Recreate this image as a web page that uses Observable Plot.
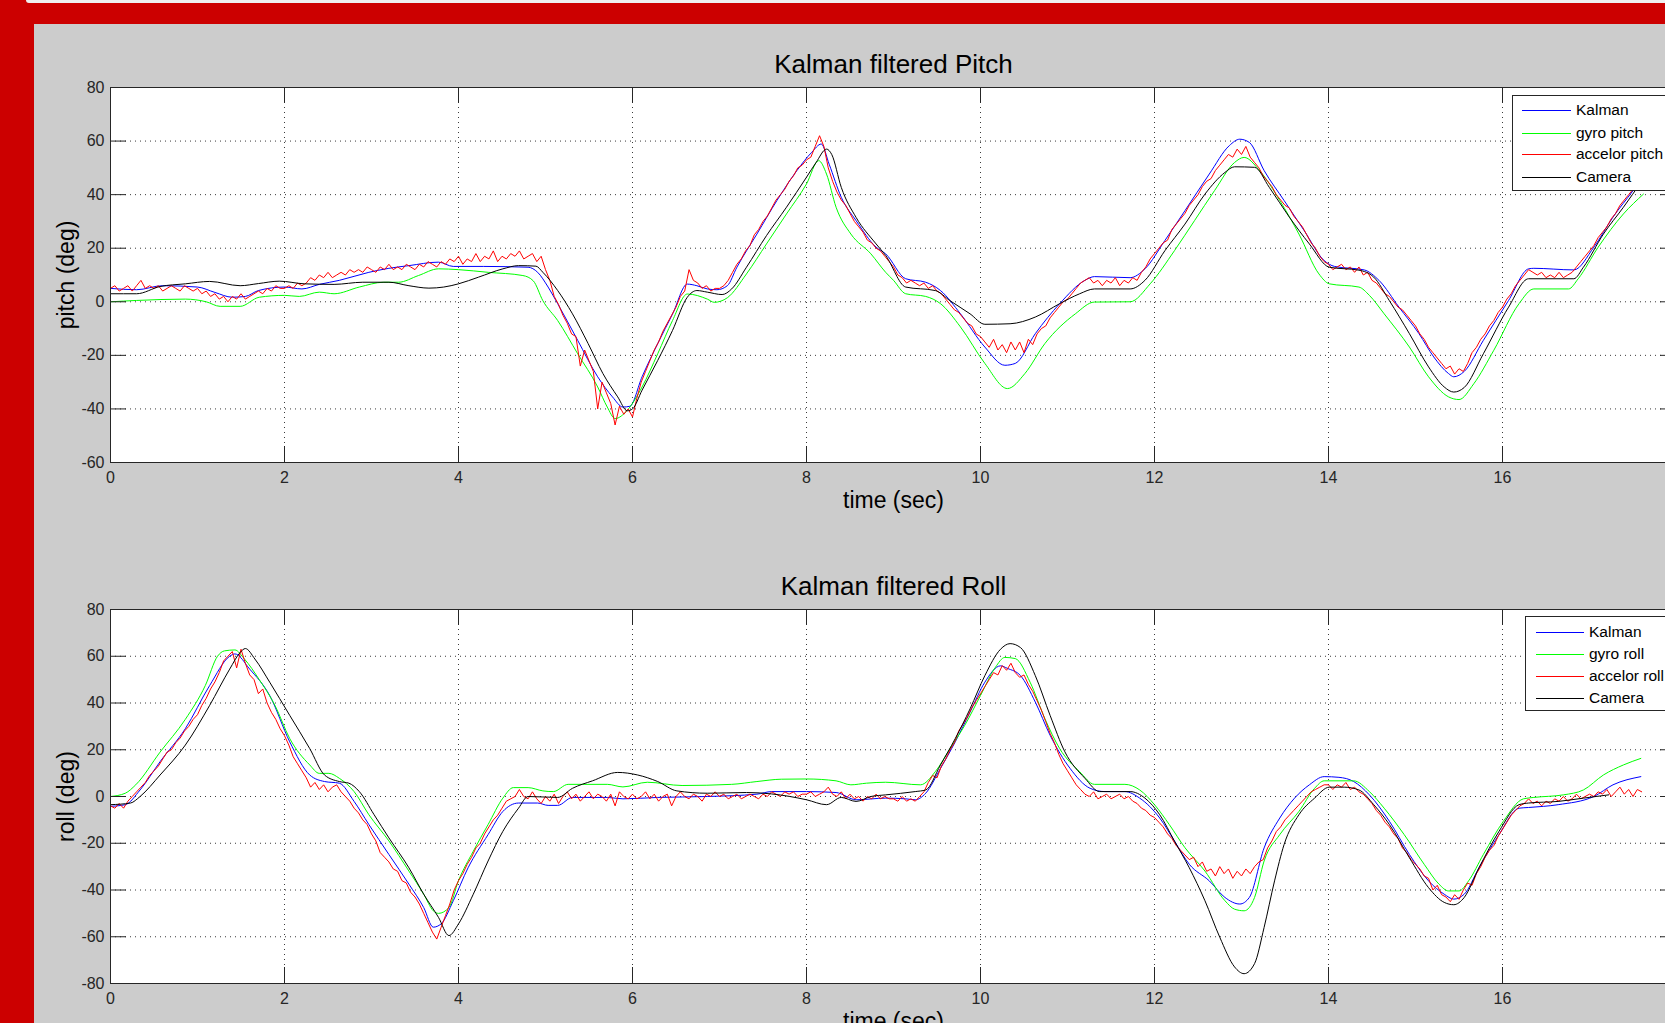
<!DOCTYPE html>
<html><head><meta charset="utf-8">
<script src="https://cdn.jsdelivr.net/npm/d3@7"></script>
<script src="https://cdn.jsdelivr.net/npm/@observablehq/plot@0.6"></script>
<style>
html,body{margin:0;padding:0;width:1665px;height:1023px;overflow:hidden;background:#cc0000;font-family:"Liberation Sans",Arial,sans-serif;position:relative;}
#topstrip{position:absolute;left:26px;top:0;width:1700px;height:3px;background:#efefef;border-bottom-left-radius:4px;}
#panel{position:absolute;left:34px;top:24px;width:1700px;height:1100px;background:#cccccc;}
.legend{position:absolute;background:#fff;border:1px solid #262626;box-sizing:border-box;z-index:5;}
.legend .ln{position:absolute;height:1px;}
.legend .tx{position:absolute;font-size:15.5px;line-height:20px;color:#000;white-space:nowrap;}
</style></head>
<body>
<div id="topstrip"></div>
<div id="panel"></div>
<script>
// ---------- data ----------
const xTicks = [0, 2, 4, 6, 8, 10, 12, 14, 16, 18];
const xTickLabels = [0, 2, 4, 6, 8, 10, 12, 14, 16];
const pitchTicks = [-60, -40, -20, 0, 20, 40, 60, 80];
const rollTicks = [-80, -60, -40, -20, 0, 20, 40, 60, 80];
const accelStep = 0.05; // sampling interval of accelerometer traces (sec)

const pitchKalman = [[0,5],[0.3,4.5],[0.6,6],[1.0,5.5],[1.2,3.5],[1.4,1.7],[1.55,2],[1.7,4.2],[2.0,5.5],[2.2,4.8],[2.4,6.5],[2.63,8],[2.97,11],[3.2,12.5],[3.43,13.5],[3.77,14.8],[3.94,13.2],[4.29,13.2],[4.8,12.9],[4.91,11],[5.03,5.5],[5.14,-0.7],[5.37,-14.4],[5.6,-28],[5.77,-35.5],[5.89,-39.3],[5.97,-39],[6.11,-28],[6.29,-15.6],[6.46,-4.6],[6.63,6.6],[6.74,6],[6.86,4.8],[6.97,4.5],[7.09,6],[7.2,12.9],[7.43,25.3],[7.66,37.8],[7.89,49],[8.06,55.8],[8.17,58.9],[8.26,51.4],[8.4,39],[8.57,30.3],[8.8,20.4],[8.91,17.9],[9.14,8.6],[9.37,7.3],[9.54,4.2],[9.77,-4.5],[10.05,-16.9],[10.28,-23.7],[10.4,-23],[10.63,-11.9],[10.91,-0.7],[11.2,8],[11.31,9.4],[11.72,9],[11.89,12.3],[12.12,22.9],[12.35,34],[12.63,47.7],[12.86,58.3],[12.98,60.7],[13.09,59.5],[13.26,49],[13.49,37.8],[13.72,26.6],[13.95,15.4],[14.07,13.2],[14.41,11.9],[14.58,8],[14.81,-2],[15.04,-11.9],[15.21,-20.6],[15.38,-26.8],[15.44,-28],[15.56,-26],[15.78,-14.4],[16.07,0.5],[16.3,12.3],[16.36,12.5],[16.82,11.9],[17.05,20.4],[17.27,31.6],[17.5,41.5],[17.6,46]];

const pitchGyro = [[0,0],[0.3,0.5],[0.86,1],[1.1,0],[1.26,-1.7],[1.49,-1.7],[1.71,1.7],[2.0,2.4],[2.17,2],[2.4,3.6],[2.57,3],[2.86,5.5],[3.14,7.3],[3.31,7.3],[3.54,9.8],[3.77,12.3],[4.0,12],[4.34,11],[4.74,9.8],[4.86,7.8],[4.97,0.4],[5.14,-7],[5.37,-19.4],[5.6,-31.8],[5.71,-39.3],[5.8,-43.6],[5.94,-40.5],[6.11,-31.8],[6.29,-19.4],[6.46,-7],[6.63,2.9],[6.86,1],[6.94,-0.2],[7.09,1.5],[7.31,10.4],[7.54,21.6],[7.77,32.8],[8.0,44],[8.14,52.7],[8.23,47.7],[8.34,35.3],[8.51,25.3],[8.74,17.9],[8.91,11],[9.0,8],[9.14,3],[9.37,2],[9.54,-0.7],[9.77,-9.4],[10.05,-23],[10.31,-32.4],[10.51,-26.8],[10.74,-15.6],[11.09,-4.5],[11.31,-0.1],[11.72,0],[11.95,6.7],[12.23,19.1],[12.46,30.3],[12.69,41.5],[12.92,52],[13.03,53.9],[13.21,48.9],[13.44,37.8],[13.66,25.3],[13.89,10.4],[14.01,6.7],[14.35,5.5],[14.47,2.4],[14.64,-4.5],[14.93,-16.9],[15.15,-28],[15.38,-35.5],[15.5,-36.5],[15.67,-30.6],[15.9,-18.1],[16.19,-0.7],[16.36,4.8],[16.76,4.8],[16.87,8.6],[17.1,20.4],[17.39,32.8],[17.62,40.2]];

const pitchAccel = [
 5,6,4,5,6,4,6,8,5,6,5,6,4,5,6,5,4,6,5,4,
 5,3,4,2,3,1,2,0,2,1,3,1,2,3,4,3,5,4,6,5,
 5,6,5,7,6,7,9,8,10,9,11,9,10,11,10,12,11,12,11,13,
 12,11,13,12,14,12,13,12,14,13,12,14,13,15,14,13,15,14,16,15,
 17,14,16,15,18,15,17,16,19,15,17,16,18,17,19,16,17,18,15,17,
 12,8,2,-1,-5,-8,-12,-13,-24,-18,-22,-26,-40,-30,-34,-38,-46,-39,-42,-40,
 -43,-36,-30,-26,-22,-18,-15,-11,-8,-5,-2,2,4,12,8,7,5,6,4,5,
 5,6,8,11,14,16,19,21,25,27,30,32,35,38,40,42,45,47,50,51,
 53,54,58,62,58,50,45,41,38,36,33,30,28,26,23,22,20,19,17,15,
 13,10,9,7,8,7,6,7,5,6,4,3,1,-1,-3,-4,-6,-8,-9,-12,
 -13,-15,-17,-14,-18,-16,-19,-15,-18,-15,-19,-14,-16,-12,-10,-9,-6,-4,-2,0,
 1,3,5,7,8,9,7,8,6,8,7,9,6,8,7,9,8,11,13,16,
 18,20,22,23,27,29,31,33,36,38,40,43,45,46,49,51,53,55,54,57,
 55,58,54,52,50,47,45,43,40,38,36,35,32,30,28,25,22,20,17,15,
 14,12,13,14,12,13,11,13,10,11,8,7,5,3,2,0,-2,-3,-5,-7,
 -9,-12,-14,-17,-19,-21,-23,-25,-24,-27,-25,-26,-23,-19,-17,-14,-12,-9,-7,-4,
 -2,1,3,6,8,10,12,11,10,11,9,10,9,11,9,10,11,13,15,17,
 19,21,24,26,28,31,33,36,38,40,42,44,46];

const pitchCamera = [[0,3],[0.3,3],[0.57,5.7],[0.86,6.7],[1.14,7.6],[1.49,6],[1.7,6.8],[1.94,7.7],[2.23,6.7],[2.57,6.5],[2.9,7.3],[3.2,7.3],[3.43,6],[3.66,5.1],[3.83,5.5],[4.0,6.7],[4.23,9.2],[4.51,12.3],[4.69,13.5],[4.89,13.3],[4.97,11],[5.14,4.2],[5.31,-4.5],[5.49,-15.6],[5.66,-26.8],[5.83,-35.5],[5.94,-40.7],[6.0,-40],[6.11,-33],[6.29,-21.9],[6.46,-10.7],[6.63,1.7],[6.74,4.2],[6.86,3.6],[7.03,2.7],[7.14,4.8],[7.31,12.9],[7.54,24.7],[7.77,35.3],[8.0,46.5],[8.11,52],[8.23,57],[8.29,55],[8.4,42.7],[8.57,31.5],[8.8,21.6],[8.91,17.3],[9.14,5.5],[9.48,4.2],[9.65,0.4],[9.88,-4.5],[10.05,-8.4],[10.34,-8.2],[10.63,-5.7],[10.91,-0.7],[11.14,3],[11.31,4.8],[11.72,4.8],[11.89,8],[12.12,19.1],[12.35,29],[12.58,40.2],[12.81,48.3],[12.92,50.4],[13.15,50.2],[13.32,42.7],[13.55,31.6],[13.78,21.6],[14.01,12.9],[14.35,11.8],[14.52,9.2],[14.7,0.4],[14.93,-11.9],[15.15,-24.3],[15.33,-31.8],[15.44,-33.7],[15.56,-32],[15.78,-19.4],[16.07,-2],[16.3,8.6],[16.82,8.6],[16.93,12.9],[17.16,25.3],[17.39,35.3],[17.6,45]];

const rollKalman = [[0,-4.2],[0.17,-3.5],[0.34,2.8],[0.57,14.9],[0.86,29],[1.14,47.5],[1.37,60],[1.43,61],[1.6,54.5],[1.83,43.2],[2.06,23.4],[2.29,9.2],[2.46,6.4],[2.63,5.7],[2.8,-2.1],[2.97,-12],[3.2,-24.8],[3.43,-37.5],[3.6,-47.5],[3.71,-55.9],[3.8,-54.5],[3.94,-44.6],[4.11,-30.5],[4.34,-16.3],[4.51,-6.4],[4.69,-2.8],[4.91,-2.8],[5.03,-3.8],[5.14,-3.8],[5.31,-0.4],[5.71,-0.4],[5.89,-1],[6.29,-0.4],[6.86,0],[7.43,1],[7.6,2.1],[8.0,2.1],[8.34,1.7],[8.57,-1.4],[8.91,-0.7],[9.14,-1],[9.25,-1.4],[9.37,1.4],[9.54,12],[9.71,23.4],[9.88,36.1],[10.05,48.9],[10.23,55.9],[10.31,54.8],[10.46,51.7],[10.63,40.4],[10.8,26.2],[11.03,12],[11.26,3.5],[11.43,2.1],[11.66,2.1],[11.83,-0.7],[12.06,-9.2],[12.23,-19.1],[12.4,-29],[12.63,-36.1],[12.81,-43.2],[12.98,-46],[13.09,-43.2],[13.26,-22],[13.44,-9.2],[13.61,-0.7],[13.78,5],[13.95,8.5],[14.12,8.2],[14.29,6.4],[14.47,0.7],[14.7,-10.6],[14.93,-24.8],[15.15,-36.1],[15.33,-41.8],[15.44,-43.9],[15.56,-41.8],[15.73,-30.5],[15.96,-16.3],[16.19,-5],[16.3,-4.7],[16.64,-3.5],[17.05,0],[17.27,5],[17.59,8.5]];

const rollGyro = [[0,0],[0.17,1.4],[0.29,5],[0.57,19],[0.86,33],[1.09,47.5],[1.23,60],[1.31,62.3],[1.43,62.7],[1.54,58.8],[1.71,50],[1.89,39],[2.06,24.8],[2.29,13.5],[2.4,9.9],[2.51,9.9],[2.63,7.8],[2.8,2.1],[2.97,-7.8],[3.2,-19],[3.43,-31.9],[3.6,-41.8],[3.71,-48.9],[3.77,-50],[3.89,-47.5],[4.0,-36],[4.17,-23.4],[4.34,-12],[4.51,-0.7],[4.63,3.8],[4.8,3.8],[4.97,2.4],[5.09,2.1],[5.26,5.2],[5.71,5.2],[5.89,4.1],[6.17,6.1],[6.57,4.7],[7.14,5.2],[7.43,6.4],[7.71,7.4],[8.0,7.5],[8.34,6.7],[8.51,5],[8.69,5.7],[8.91,6.1],[9.31,5],[9.48,10.6],[9.65,20.5],[9.82,30.5],[10.0,43.2],[10.17,55.2],[10.28,59.5],[10.4,59],[10.57,48.9],[10.74,33.3],[10.91,20.5],[11.14,10.6],[11.31,5.2],[11.66,5.2],[11.83,2.8],[12.0,-3.5],[12.17,-12],[12.35,-21.9],[12.58,-31.9],[12.81,-44.6],[12.92,-48.2],[13.03,-48.9],[13.15,-43.2],[13.26,-27.6],[13.44,-16.3],[13.66,-6.4],[13.84,3.5],[13.95,6.7],[14.29,6.7],[14.47,2.1],[14.64,-5],[14.87,-16.3],[15.1,-29],[15.27,-37.5],[15.38,-40.4],[15.5,-40.4],[15.61,-36.1],[15.78,-24.8],[16.01,-10.6],[16.24,-1],[16.36,-0.4],[16.7,0.7],[16.93,2.8],[17.16,9.2],[17.39,13.5],[17.59,16.3]];

const rollAccel = [
 -4,-5,-3,-5,-2,0,2,4,6,9,11,13,16,19,20,23,25,28,30,33,
 35,39,42,46,49,53,58,60,62,55,63,57,52,50,44,46,40,36,33,29,
 26,22,17,14,11,8,4,6,3,5,2,4,5,2,0,-2,-5,-7,-10,-12,
 -16,-19,-24,-26,-28,-31,-32,-36,-37,-41,-43,-46,-50,-54,-58,-61,-56,-51,-46,-40,
 -36,-33,-29,-26,-22,-20,-16,-13,-10,-8,-5,-2,-1,0,3,0,-1,2,-1,-3,
 0,-2,1,-3,0,2,-1,1,-2,0,2,-1,1,0,-2,1,-4,2,0,-1,
 1,-1,0,2,-1,1,-2,0,1,-4,0,2,0,-1,1,0,-2,1,0,2,
 0,1,-1,0,1,-1,0,1,0,-1,1,0,2,1,0,2,1,2,0,1,
 1,2,0,1,2,4,1,0,2,-1,1,-1,0,-2,0,-1,1,-1,0,-1,
 -1,-2,0,-2,-1,-2,0,2,6,9,8,13,16,20,23,28,31,34,38,41,
 44,47,50,53,52,56,54,57,53,51,52,48,45,41,37,32,27,23,18,14,
 11,8,5,3,1,0,2,-1,0,1,-1,0,1,-1,0,-2,-3,-5,-6,-8,
 -9,-11,-13,-16,-18,-21,-23,-25,-27,-26,-30,-28,-32,-31,-34,-30,-33,-31,-35,-32,
 -34,-31,-33,-30,-28,-27,-22,-19,-15,-13,-10,-8,-6,-4,-2,0,2,3,4,5,
 5,3,5,4,6,3,4,2,1,-1,-3,-6,-8,-11,-13,-16,-18,-22,-24,-27,
 -29,-31,-34,-35,-40,-38,-42,-43,-45,-42,-44,-40,-37,-38,-33,-30,-26,-23,-21,-17,
 -14,-11,-8,-6,-4,-3,-1,-3,-2,-4,-2,-3,-1,-2,0,-2,-1,1,-1,0,
 1,0,2,1,3,0,2,4,1,3,0,3,2];

const rollCamera = [[0,-3.5],[0.23,-2.8],[0.34,0],[0.57,9.2],[0.86,22],[1.14,39],[1.37,54.5],[1.49,61.6],[1.55,63.3],[1.66,58.8],[1.83,48.9],[2.06,34.7],[2.29,20.5],[2.46,9.2],[2.63,6.4],[2.74,5.7],[2.86,2.1],[3.03,-7.8],[3.2,-17.7],[3.43,-30.5],[3.6,-41.8],[3.77,-51.7],[3.89,-59.5],[4.0,-54.5],[4.17,-41.8],[4.34,-27.6],[4.51,-14.9],[4.69,-5],[4.8,0],[5.14,-0.4],[5.31,3.5],[5.54,6.7],[5.83,10.3],[6.06,9.2],[6.29,6.4],[6.51,2.4],[6.86,1.4],[7.31,1.7],[7.6,1.1],[8.0,-1.4],[8.23,-3.5],[8.4,-0.4],[8.57,-2.1],[8.74,0],[8.91,0.7],[9.25,2.1],[9.37,2.8],[9.54,13.5],[9.71,24.8],[9.88,37.5],[10.05,51.7],[10.23,63],[10.34,65.4],[10.46,63.7],[10.63,51.7],[10.8,34.7],[10.97,19.1],[11.2,7.8],[11.37,2.1],[11.72,2.1],[11.89,-0.7],[12.06,-7.8],[12.23,-19.1],[12.4,-30.5],[12.58,-44.6],[12.75,-60.2],[12.92,-72.9],[13.03,-75.8],[13.15,-71.5],[13.26,-56],[13.38,-36.1],[13.49,-20.5],[13.66,-7.8],[13.84,-0.7],[14.01,4],[14.18,4],[14.35,2.8],[14.52,-3.5],[14.7,-12],[14.93,-26.2],[15.15,-39],[15.33,-45.3],[15.44,-46.3],[15.56,-43.2],[15.73,-30.5],[15.96,-14.9],[16.19,-3.5],[16.3,-2.8],[16.64,-2.1],[16.93,-0.7],[17.22,0.7]];

const colors = {kalman: "#0000ff", gyro: "#00ff00", accel: "#ff0000", camera: "#000000"};

// ---------- helpers ----------
const rows = pairs => pairs.map(([t, v]) => ({t, v}));
const sampled = vals => vals.map((v, i) => ({t: +(i * accelStep).toFixed(2), v}));

const PX_PER_SEC = 87;
const plotW = 18 * PX_PER_SEC;

function makePlot({top, plotH, yDomain, yTicks, title, ylabel, kalman, gyro, accel, camera}) {
  const mL = 76, mR = 10, mT = 63, mB = 60;
  const smooth = (c) => ({x: "t", y: "v", stroke: c, strokeWidth: 1, curve: "monotone-x"});
  const raw = (c) => ({x: "t", y: "v", stroke: c, strokeWidth: 1, curve: "linear"});
  const fmt = d => String(d);
  const svg = Plot.plot({
    width: mL + plotW + mR,
    height: mT + plotH + mB,
    marginLeft: mL, marginRight: mR, marginTop: mT, marginBottom: mB,
    x: {domain: [0, 18]},
    y: {domain: yDomain},
    style: {position: "absolute", left: "34px", top: top + "px", background: "transparent",
            color: "#262626", fontFamily: "'Liberation Sans', Arial, sans-serif", fontSize: "16px", maxWidth: "none", overflow: "visible"},
    marks: [
      Plot.frame({fill: "#ffffff", stroke: "none"}),
      Plot.gridX(xTicks, {stroke: "#3a3a3a", strokeOpacity: 1, strokeWidth: 1, strokeDasharray: "1,4"}),
      Plot.gridY(yTicks, {stroke: "#3a3a3a", strokeOpacity: 1, strokeWidth: 1, strokeDasharray: "1,4"}),
      Plot.line(rows(kalman), smooth(colors.kalman)),
      Plot.line(rows(gyro), smooth(colors.gyro)),
      Plot.line(sampled(accel), raw(colors.accel)),
      Plot.line(rows(camera), smooth(colors.camera)),
      Plot.tickX(xTicks, {x: d => d, insetTop: plotH - 16, stroke: "#262626"}),
      Plot.tickX(xTicks, {x: d => d, insetBottom: plotH - 16, stroke: "#262626"}),
      Plot.tickY(yTicks, {y: d => d, insetRight: plotW - 16, stroke: "#262626"}),
      Plot.tickY(yTicks, {y: d => d, insetLeft: plotW - 16, stroke: "#262626"}),
      Plot.frame({stroke: "#262626", strokeWidth: 1}),
      Plot.axisX(xTickLabels, {tickSize: 0, tickPadding: 9, label: null, fontSize: 16, tickFormat: fmt}),
      Plot.axisY(yTicks, {tickSize: 0, tickPadding: 6, label: null, fontSize: 16, tickFormat: fmt}),
      Plot.text([title], {frameAnchor: "top", dy: -33, fontSize: 26, fill: "#000", textAnchor: "middle"}),
      Plot.text(["time (sec)"], {frameAnchor: "bottom", dy: 45, fontSize: 23, fill: "#000", textAnchor: "middle"}),
      Plot.text([ylabel], {frameAnchor: "left", dx: -44, rotate: -90, fontSize: 23, fill: "#000", textAnchor: "middle"})
    ]
  });
  document.body.appendChild(svg);
}

function makeLegend({left, top, width, height, names, rowY, lineL, lineW, textL}) {
  const box = document.createElement("div");
  box.className = "legend";
  Object.assign(box.style, {left: left + "px", top: top + "px", width: width + "px", height: height + "px"});
  const cols = [colors.kalman, colors.gyro, colors.accel, colors.camera];
  names.forEach((n, i) => {
    const ln = document.createElement("div");
    ln.className = "ln";
    Object.assign(ln.style, {left: lineL + "px", top: (rowY[i] - 1) + "px", width: lineW + "px", background: cols[i]});
    const tx = document.createElement("div");
    tx.className = "tx";
    tx.textContent = n;
    Object.assign(tx.style, {left: textL + "px", top: (rowY[i] - 11) + "px"});
    box.appendChild(ln); box.appendChild(tx);
  });
  document.body.appendChild(box);
}

makePlot({top: 24, plotH: 375, yDomain: [-60, 80], yTicks: pitchTicks,
  title: "Kalman filtered Pitch", ylabel: "pitch (deg)",
  kalman: pitchKalman, gyro: pitchGyro, accel: pitchAccel, camera: pitchCamera});
makePlot({top: 546, plotH: 374, yDomain: [-80, 80], yTicks: rollTicks,
  title: "Kalman filtered Roll", ylabel: "roll (deg)",
  kalman: rollKalman, gyro: rollGyro, accel: rollAccel, camera: rollCamera});

makeLegend({left: 1512, top: 95, width: 160, height: 96,
  names: ["Kalman", "gyro pitch", "accelor pitch", "Camera"],
  rowY: [15, 38, 59, 82], lineL: 9, lineW: 49, textL: 63});
makeLegend({left: 1525, top: 616, width: 147, height: 95,
  names: ["Kalman", "gyro roll", "accelor roll", "Camera"],
  rowY: [16, 38, 60, 82], lineL: 10, lineW: 48, textL: 63});
</script>
</body></html>
